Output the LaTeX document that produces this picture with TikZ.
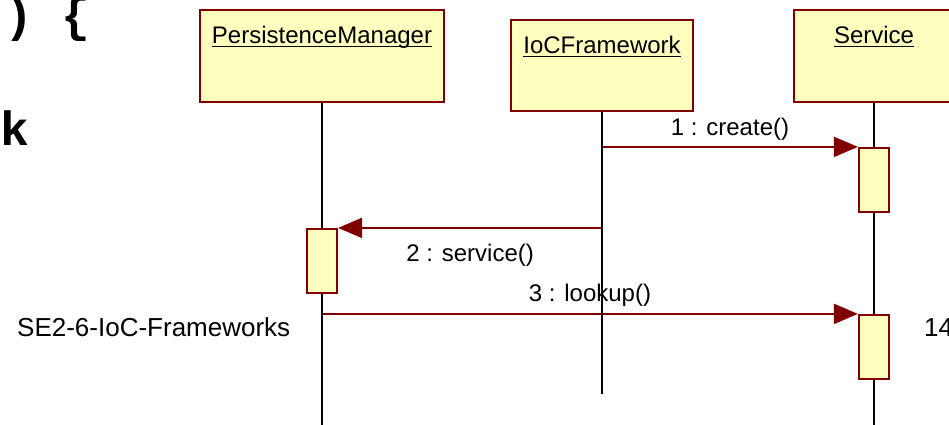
\documentclass[tikz,border=0pt]{standalone}
\usepackage{fontspec}
\setmainfont{Liberation Sans}
\newfontfamily\codefont{Liberation Mono}
\usetikzlibrary{arrows.meta,backgrounds}
\definecolor{umlred}{RGB}{128,0,0}
\definecolor{umlfill}{RGB}{255,255,192}
\newsavebox\namebox
\newcommand{\objname}[1]{\sbox\namebox{#1}\rlap{\usebox\namebox}\rule[-4pt]{\wd\namebox}{1.5pt}}

\begin{document}
\begin{tikzpicture}[x=1pt, y=-1pt,
    obj/.style={draw=umlred, line width=2.2pt, fill=umlfill, inner sep=0pt},
    act/.style={draw=umlred, line width=2.2pt, fill=umlfill, minimum width=30pt, minimum height=64pt, inner sep=0pt},
    objtitle/.style={anchor=north, inner sep=0pt, yshift=-17pt, font=\fontsize{24}{28}\selectfont},
    msg/.style={draw=umlred, line width=2pt, -{Triangle[length=24pt,width=20pt]}},
    lifeline/.style={draw=black, line width=2pt},
    lbl/.style={anchor=base, inner sep=0pt, midway, font=\fontsize{24}{28}\selectfont},
    codetext/.style={anchor=base west, inner sep=0pt, font=\codefont\bfseries\fontsize{48}{56}\selectfont},
    slidetext/.style={anchor=base west, inner sep=0pt, font=\fontsize{26}{30}\selectfont}]
    \useasboundingbox (0,0) rectangle (949,425);
    \node [codetext] (c1) at (4,32) {) \{};
    \node [codetext] (c2) at (0,145) {k};
    \node [slidetext] (foot) at (17,336) {SE2-6-IoC-Frameworks};
    \node [slidetext] (page) at (924,336) {14};
    \node [obj, minimum width=244pt, minimum height=92pt] (pm) at (322,56) {};
    \node [obj, minimum width=182pt, minimum height=91pt] (ioc) at (602,65.5) {};
    \node [obj, minimum width=160pt, minimum height=92pt] (svc) at (874,56) {};
    \node [objtitle] (pmt) at (pm.north) {\objname{PersistenceManager}};
    \node [objtitle] (ioct) at (ioc.north) {\objname{IoCFramework}};
    \node [objtitle] (svct) at (svc.north) {\objname{Service}};
    \node [act] (a1) at (874,180) {};
    \node [act] (a2) at (322,261) {};
    \node [act] (a3) at (874,347) {};
    \coordinate (pmend) at (322,425);
    \coordinate (iocend) at (602,394);
    \coordinate (svcend) at (874,425);
    \begin{scope}[on background layer]
    \draw [msg] (ioc.south |- a1.north west) to node [lbl, yshift=11pt] {1 : create()} (a1.north west);
    \draw [msg] (ioc.south |- a2.north east) to node [lbl, yshift=-34pt] {2 : service()} (a2.north east);
    \draw [msg] (pm.south |- a3.north west) to node [lbl, yshift=12pt] {3 : lookup()} (a3.north west);
    \draw [lifeline] (pm) to (pmend);
    \draw [lifeline] (ioc) to (iocend);
    \draw [lifeline] (svc) to (svcend);
    \end{scope}
  \end{tikzpicture}
\end{document}
